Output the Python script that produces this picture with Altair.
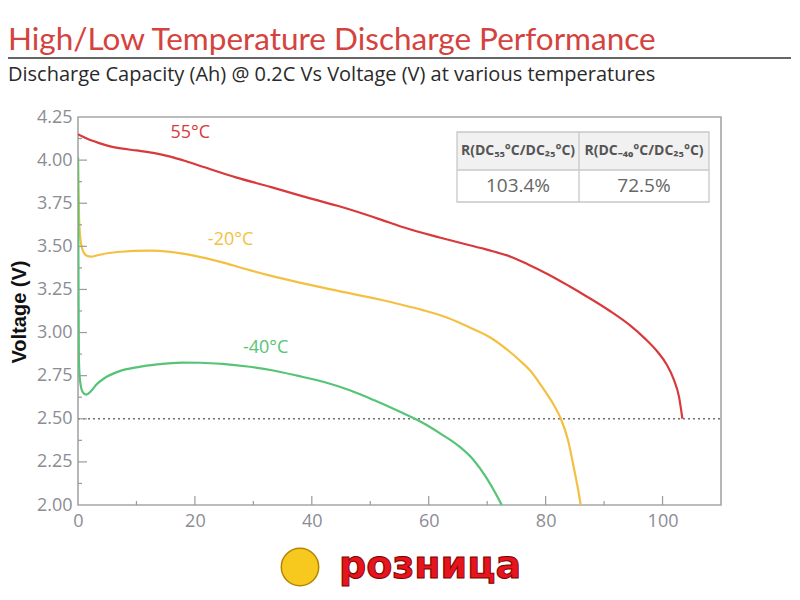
import altair as alt
import pandas as pd

# ---------------- data ----------------
temps = ["55°C", "-20°C", "-40°C"]
colors = ["#d83a3c", "#f4c043", "#56c476"]

cap_55 = [0, 1.5, 3.5, 5.5, 7.3, 10, 12.9, 15.8, 18.5, 21.5, 27, 32.9, 38.5, 44.4, 51.8,
          55.2, 62, 68.9, 71.1, 74, 77, 80.3, 84, 87.1, 91, 94.5, 97, 99.1, 100.7, 101.9,
          102.8, 103.4]
volt_55 = [4.15, 4.125, 4.10, 4.08, 4.068, 4.056, 4.042, 4.02, 3.993, 3.96, 3.90, 3.845,
           3.79, 3.735, 3.655, 3.615, 3.55, 3.49, 3.47, 3.44, 3.395, 3.34, 3.27, 3.208,
           3.125, 3.04, 2.965, 2.89, 2.815, 2.73, 2.63, 2.50]

cap_m20 = [0, 0.2, 0.5, 0.9, 1.5, 2.2, 3.5, 6.7, 12.4, 15.8, 20, 24.4, 28.5, 32.9, 38.5,
           44.3, 51.8, 55.2, 59, 63.2, 67, 70.6, 73.8, 75.7, 77.6, 79.3, 80.5, 81.4, 82.6,
           83.8, 84.8, 85.5, 86.0]
volt_m20 = [4.01, 3.65, 3.52, 3.47, 3.445, 3.44, 3.45, 3.467, 3.475, 3.468, 3.445, 3.41,
            3.37, 3.33, 3.285, 3.243, 3.19, 3.163, 3.13, 3.086, 3.03, 2.97, 2.89, 2.834,
            2.77, 2.69, 2.63, 2.58, 2.50, 2.38, 2.22, 2.10, 2.00]

cap_m40 = [0, 0.1, 0.15, 0.35, 0.8, 1.4, 2.2, 3.2, 4.5, 7, 10.3, 13.5, 17.8, 21, 24.7, 29,
           33.4, 37.5, 42.1, 46.5, 50.7, 54.8, 58.8, 62.2, 65.2, 67.7, 69.8, 71.4, 72.5]
volt_m40 = [4.02, 3.20, 2.85, 2.72, 2.655, 2.64, 2.66, 2.70, 2.735, 2.775, 2.80, 2.815,
            2.826, 2.825, 2.818, 2.803, 2.78, 2.75, 2.713, 2.665, 2.607, 2.545, 2.48, 2.41,
            2.34, 2.26, 2.162, 2.07, 2.00]

label_cap = [19.2, 26.1, 32.1]
label_volt = [4.157, 3.535, 2.913]

x_labels = [0, 20, 40, 60, 80, 100]
x_minor = [10, 30, 50, 70, 90]
y_labels = [2.00, 2.25, 2.50, 2.75, 3.00, 3.25, 3.50, 3.75, 4.00, 4.25]
y_major_ticks = [2.25, 2.50, 2.75, 3.00, 3.25, 3.50, 3.75, 4.00]
y_minor_ticks = [2.125, 2.375, 2.625, 2.875, 3.125, 3.375, 3.625, 3.875, 4.125]
cutoff = [2.5]

table_headers = ["R(DC₅₅°C/DC₂₅°C)", "R(DC₋₄₀°C/DC₂₅°C)"]
table_values = ["103.4%", "72.5%"]

title_text = "High/Low Temperature Discharge Performance"
subtitle_text = "Discharge Capacity (Ah) @ 0.2C Vs Voltage (V) at various temperatures"
y_title = "Voltage (V)"
watermark = "розница"

# ---------------- build ----------------
W, H = 643, 388
FONT = "Open Sans"
LABEL_COL = "#8c8c94"

rows = []
for name, xs, vs in [(temps[0], cap_55, volt_55), (temps[1], cap_m20, volt_m20),
                     (temps[2], cap_m40, volt_m40)]:
    for x, v in zip(xs, vs):
        rows.append({"series": name, "cap": x, "volt": v})
df = pd.DataFrame(rows)

xscale = alt.Scale(domain=[0, 110], nice=False, zero=False)
yscale = alt.Scale(domain=[2.0, 4.25], nice=False, zero=False)

xaxis = alt.Axis(values=x_labels, title=None, domain=False, ticks=False, grid=False,
                 labelFont=FONT, labelFontSize=18, labelColor=LABEL_COL, labelPadding=7,
                 labelFlush=False, labelOverlap=False)
yaxis = alt.Axis(values=y_labels, format=".2f", title=None, domain=False, ticks=False,
                 grid=False, labelFont=FONT, labelFontSize=18, labelColor=LABEL_COL,
                 labelPadding=6, labelFlush=False, labelOverlap=False)

one = pd.DataFrame({"a": [0]})

layers = []

# cutoff dotted line
layers.append(
    alt.Chart(pd.DataFrame({"v": cutoff})).mark_rule(color="#707070", strokeWidth=1.5,
                                                      strokeDash=[2, 3]).encode(
        y=alt.Y("v:Q", scale=yscale, axis=yaxis), x=alt.value(0), x2=alt.value(W))
)

# curves
for name, col in zip(temps, colors):
    layers.append(
        alt.Chart(df).transform_filter(alt.datum.series == name).mark_line(
            color=col, strokeWidth=2.2, interpolate="monotone", clip=True).encode(
            x=alt.X("cap:Q", scale=xscale, axis=xaxis),
            y=alt.Y("volt:Q", scale=yscale, axis=yaxis))
    )

# inside ticks
tick_col = "#9a9a9a"
layers.append(alt.Chart(pd.DataFrame({"t": x_labels[1:]})).mark_rule(color=tick_col, strokeWidth=1.2).encode(
    x=alt.X("t:Q", scale=xscale, axis=xaxis), y=alt.value(H), y2=alt.value(H - 9)))
layers.append(alt.Chart(pd.DataFrame({"t": x_minor})).mark_rule(color=tick_col, strokeWidth=1.2).encode(
    x=alt.X("t:Q", scale=xscale, axis=xaxis), y=alt.value(H), y2=alt.value(H - 4)))
layers.append(alt.Chart(pd.DataFrame({"t": y_major_ticks})).mark_rule(color=tick_col, strokeWidth=1.2).encode(
    y=alt.Y("t:Q", scale=yscale, axis=yaxis), x=alt.value(0), x2=alt.value(9)))
layers.append(alt.Chart(pd.DataFrame({"t": y_minor_ticks})).mark_rule(color=tick_col, strokeWidth=1.2).encode(
    y=alt.Y("t:Q", scale=yscale, axis=yaxis), x=alt.value(0), x2=alt.value(4)))

# curve labels
lab_df = pd.DataFrame({"label": temps, "cap": label_cap, "volt": label_volt})
layers.append(alt.Chart(lab_df).mark_text(font=FONT, fontSize=18, align="center",
                                          baseline="middle").encode(
    x=alt.X("cap:Q", scale=xscale, axis=xaxis), y=alt.Y("volt:Q", scale=yscale, axis=yaxis),
    text="label:N",
    color=alt.Color("label:N", scale=alt.Scale(domain=temps, range=colors), legend=None)))

# table
TL, TR, TD = 379, 631, 501
TT, TM, TB = 15, 53, 85
border = "#c8c8c8"
layers.append(alt.Chart(one).mark_rect(fill="#f1f1f1", stroke=None).encode(
    x=alt.value(TL), x2=alt.value(TR), y=alt.value(TT), y2=alt.value(TM)))
layers.append(alt.Chart(one).mark_rect(fill="white", stroke=None).encode(
    x=alt.value(TL), x2=alt.value(TR), y=alt.value(TM), y2=alt.value(TB)))
layers.append(alt.Chart(one).mark_rect(fill=None, stroke=border, strokeWidth=1.3).encode(
    x=alt.value(TL), x2=alt.value(TR), y=alt.value(TT), y2=alt.value(TB)))
layers.append(alt.Chart(one).mark_rule(color=border, strokeWidth=1.3).encode(
    x=alt.value(TL), x2=alt.value(TR), y=alt.value(TM)))
layers.append(alt.Chart(one).mark_rule(color=border, strokeWidth=1.3).encode(
    x=alt.value(TD), y=alt.value(TT), y2=alt.value(TB)))
for i, (h, v) in enumerate(zip(table_headers, table_values)):
    cx = (TL + TD) / 2 if i == 0 else (TD + TR) / 2
    layers.append(alt.Chart(one).mark_text(text=h, font=FONT, fontSize=14, fontWeight="bold",
                                           color="#555555", align="center", baseline="middle").encode(
        x=alt.value(cx), y=alt.value((TT + TM) / 2)))
    layers.append(alt.Chart(one).mark_text(text=v, font=FONT, fontSize=19,
                                           color="#666666", align="center", baseline="middle").encode(
        x=alt.value(cx), y=alt.value((TM + TB) / 2)))

# y title
layers.append(alt.Chart(one).mark_text(text=y_title, font="Liberation Sans", fontSize=20,
                                       fontWeight="bold", color="#111111", angle=270,
                                       align="center", baseline="middle").encode(
    x=alt.value(-58), y=alt.value(195)))

# page title, rule, subtitle
layers.append(alt.Chart(one).mark_text(text=title_text, font="Lato", fontSize=31.5,
                                       color="#d4433d", align="left", baseline="alphabetic").encode(
    x=alt.value(-70), y=alt.value(-67)))
layers.append(alt.Chart(one).mark_rule(color="#333333", strokeWidth=1.5).encode(
    x=alt.value(-70), x2=alt.value(730), y=alt.value(-59)))
layers.append(alt.Chart(one).mark_text(text=subtitle_text, font=FONT, fontSize=20,
                                       color="#2a2a2a", align="left", baseline="alphabetic").encode(
    x=alt.value(-70), y=alt.value(-36)))

# watermark
layers.append(alt.Chart(one).mark_point(filled=True, size=1400, shape="circle", color="#f7c81e",
                                        stroke="#b58500", strokeWidth=1.5, opacity=1).encode(
    x=alt.value(222), y=alt.value(450)))
layers.append(alt.Chart(one).mark_text(text=watermark, font="DejaVu Sans", fontSize=38,
                                       fontWeight="bold", color="#e8141c", stroke="#7a0000",
                                       strokeWidth=1, align="center", baseline="middle").encode(
    x=alt.value(352), y=alt.value(450)))

chart = alt.layer(*layers).properties(
    width=W, height=H,
    padding={"left": 70, "top": 109, "right": 70, "bottom": 84},
    autosize=alt.AutoSizeParams(type="none"),
).configure_view(stroke="#a6a6a6", strokeWidth=1.6)

chart.save("out.html", embed_options={"renderer": "svg", "actions": False})
